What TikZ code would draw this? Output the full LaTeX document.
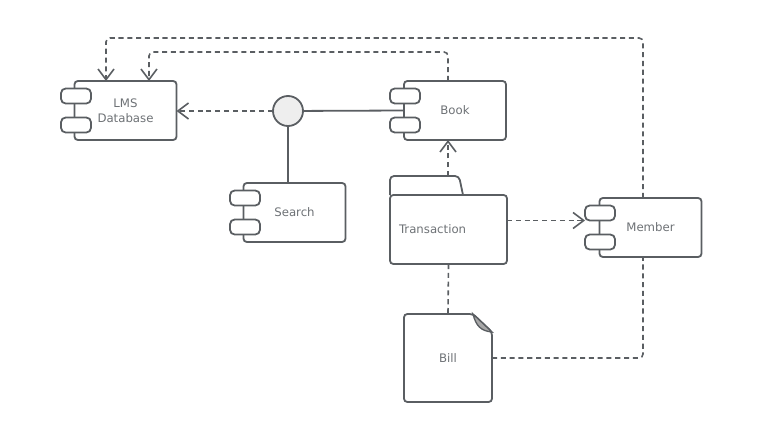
\documentclass[tikz,border=0pt]{standalone}
\usepackage{fontspec}
\setmainfont{DejaVu Sans}
\usetikzlibrary{arrows.meta}
\definecolor{linegray}{HTML}{5A5E62}
\definecolor{textgray}{HTML}{6E7276}
\definecolor{circlegray}{HTML}{EEEEEE}
\definecolor{foldgray}{HTML}{A8A8A8}
\begin{document}
\begin{tikzpicture}[
		x=0.75pt, y=-0.75pt,
		line width=1.35pt, draw=linegray,
		every node/.style={font=\fontsize{8.8}{11.5}\selectfont, text=textgray, align=center, outer sep=0pt},
		compbox/.style={draw=linegray, line width=1.35pt, rounded corners=2.5pt, fill=white, minimum width=76.5pt, minimum height=44.25pt},
		tabbox/.style={draw=linegray, line width=1.35pt, rounded corners=3.5pt, fill=white, minimum width=22.5pt, minimum height=11.25pt, inner sep=0pt},
		dep/.style={draw=linegray, line width=1.2pt, dash pattern=on 3.8pt off 2.8pt, rounded corners=3pt},
		deparrow/.style={dep, -{Straight Barb[length=8pt,width=12pt,line width=1.2pt]}}
	]
	\useasboundingbox (0,0) rectangle (768,432);

	\node[compbox] (lms) at (125.5,110.5) {LMS\\Database};
	\node[compbox] (search) at (294.5,212.5) {Search};
	\node[compbox] (book) at (455,110.5) {Book};
	\node[compbox] (member) at (650.5,227.5) {Member};

	\foreach \n/\x/\y in {lms/76/110.5, search/245/212.5, book/405/110.5, member/600/227.5} {
		\node[tabbox] (\n a) at (\x,\y-14.5) {};
		\node[tabbox] (\n b) at (\x,\y+14.5) {};
	}

	\node[draw=linegray, line width=1.35pt, rounded corners=2.5pt, minimum width=87.75pt, minimum height=51.75pt, inner xsep=6.75pt, text width=74.25pt, align=left] (transaction) at (448.5,229.5) {Transaction};
	\draw[rounded corners=3pt] (transaction.north west) |- (459,176) -- (463,195);
	\coordinate (transactiontop) at (448,176);

	\node[minimum width=66pt, minimum height=66pt, inner sep=0pt] (bill) at (448,358) {Bill};
	\draw[rounded corners=2.5pt] (bill.north west) -- (473,314) -- (492,332) -- (bill.south east) -- (bill.south west) -- cycle;
	\draw[fill=foldgray, line width=1pt] (473,314) .. controls (476,326) and (481,331) .. (492,332) -- cycle;

	\node[circle, draw=linegray, line width=1.35pt, fill=circlegray, minimum size=22.5pt, inner sep=0pt] (iface) at (288,111) {};

	\draw[draw=linegray] (iface) -- (book.west);
	\draw[draw=linegray] (iface) -- (iface |- search.north);

	\draw[deparrow] (iface) -- (iface -| lms.east);
	\draw[deparrow] ([xshift=-5.6pt]member.north) |- (106,38) -- ([xshift=-14.6pt]lms.north);
	\draw[deparrow] ([xshift=-5.25pt]book.north) |- (149,52) -- ([xshift=17.6pt]lms.north);
	\draw[deparrow] (transactiontop) -- (transactiontop |- book.south);
	\draw[deparrow] (membera.south west -| transaction.east) -- (membera.south west);
	\draw[dep] (transaction.south) -- (bill.north);
	\draw[dep] (bill.east) -| ([xshift=-5.6pt]member.south);
\end{tikzpicture}
\end{document}
